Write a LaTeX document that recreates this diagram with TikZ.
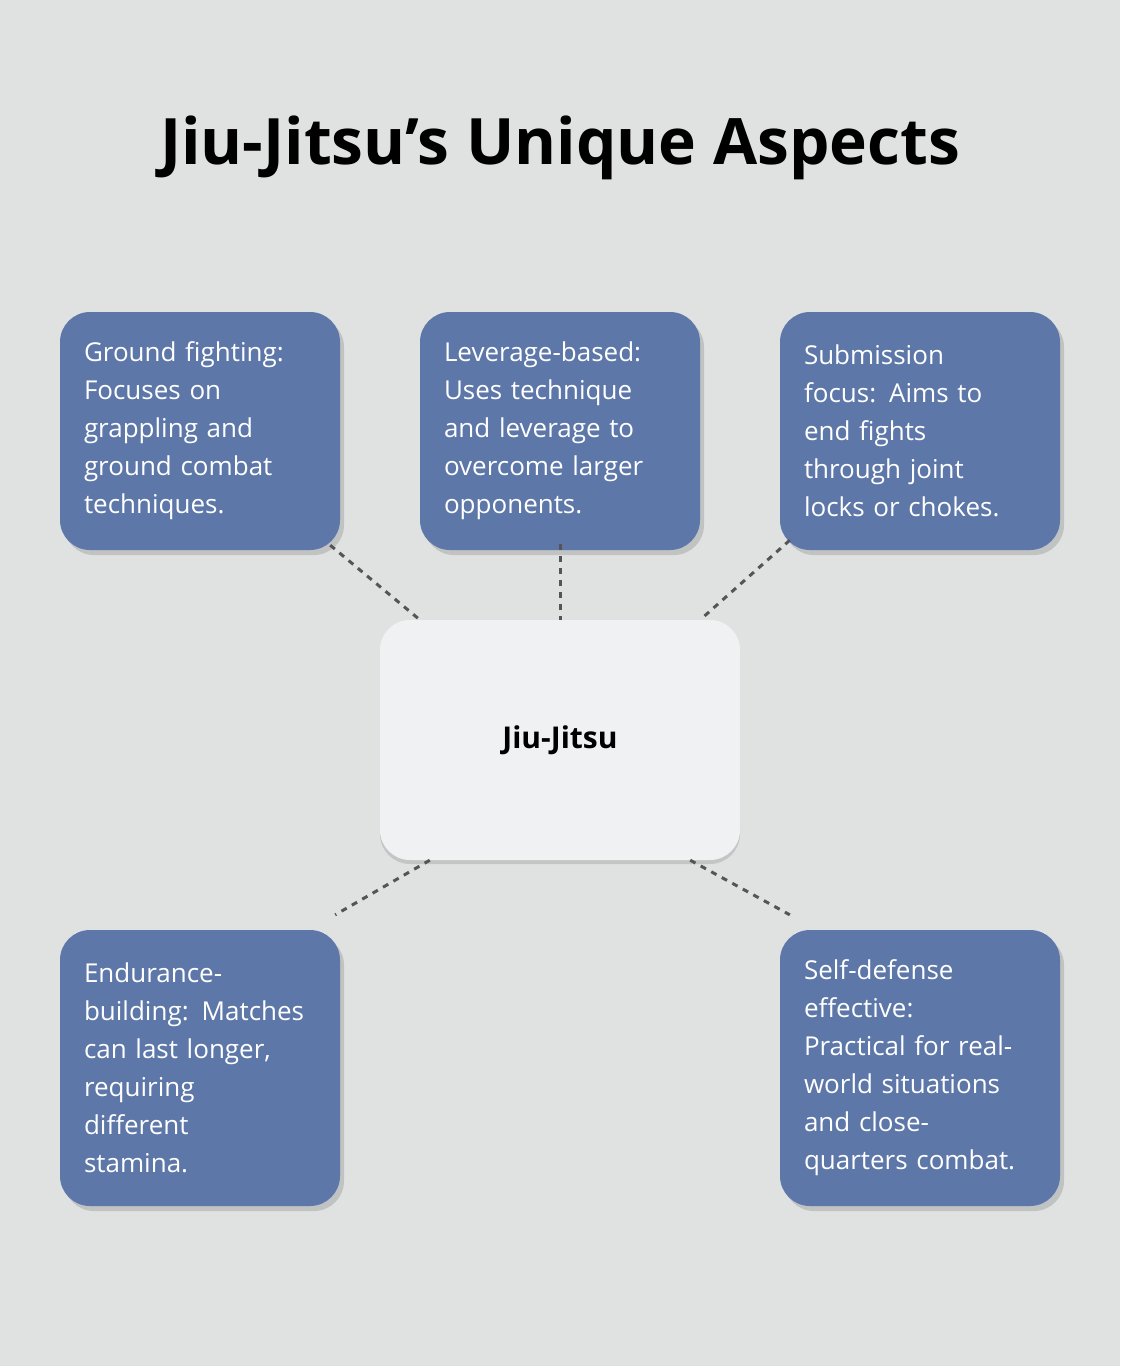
\documentclass[tikz,border=0pt]{standalone}
\usepackage{fontspec}
\setmainfont{Open Sans}
\usetikzlibrary{positioning,shadows}
\definecolor{bgcol}{HTML}{E0E2E1}
\definecolor{boxcol}{HTML}{5D77A8}
\definecolor{hubcol}{HTML}{F0F1F3}
\definecolor{linkcol}{HTML}{555555}
\begin{document}
\begin{tikzpicture}[x=1pt,y=-1pt,%
    aspect/.style={draw=none,fill=boxcol,rounded corners=30pt,minimum width=280pt,
      text width=232pt,align=left,text=white,inner sep=0pt,
      font=\fontsize{26}{38}\selectfont,
      drop shadow={shadow xshift=4pt,shadow yshift=-5pt,opacity=0.25,fill=black!60}},
    hub/.style={fill=hubcol,rounded corners=30pt,minimum width=360pt,minimum height=240pt,
      font=\bfseries\fontsize{30}{36}\selectfont,
      drop shadow={shadow xshift=0pt,shadow yshift=-4pt,opacity=0.12,fill=black}},
    link/.style={draw=linkcol,line width=3pt,dash pattern=on 6pt off 6pt}
  ]
	\fill[bgcol] (0,0) rectangle (1120,1366);
	\node at(560,148) (title) {\bfseries\fontsize{64}{76}\selectfont Jiu-Jitsu's Unique Aspects};

	\node[hub] at(560,740) (hub) {Jiu-Jitsu};

	\node[aspect,minimum height=238pt] at(200,431) (ground) {Ground fighting:\\Focuses on\\grappling and\\ground combat\\techniques.};
	\node[aspect,minimum height=238pt] at(560,431) (leverage) {Leverage-based:\\Uses technique\\and leverage to\\overcome larger\\opponents.};
	\node[aspect,minimum height=238pt] at(920,431) (submission) {Submission\\focus: Aims to\\end fights\\through joint\\locks or chokes.};
	\node[aspect,minimum height=276pt] at(200,1068) (endurance) {Endurance-\\building: Matches\\can last longer,\\requiring\\different\\stamina.};
	\node[aspect,minimum height=276pt] at(920,1068) (selfdef) {Self-defense\\effective:\\Practical for real-\\world situations\\and close-\\quarters combat.};

	\draw[link] ([xshift=-10pt,yshift=5pt]ground.south east) -- ([xshift=40pt]hub.north west);
	\draw[link] ([yshift=6pt]leverage.south) -- (hub.north);
	\draw[link] ([xshift=10pt,yshift=10pt]submission.south west) -- ([xshift=-40pt]hub.north east);
	\draw[link] ([xshift=50pt]hub.south west) -- ([xshift=-5pt,yshift=15pt]endurance.north east);
	\draw[link] ([xshift=-50pt]hub.south east) -- ([xshift=10pt,yshift=15pt]selfdef.north west);
\end{tikzpicture}
\end{document}
